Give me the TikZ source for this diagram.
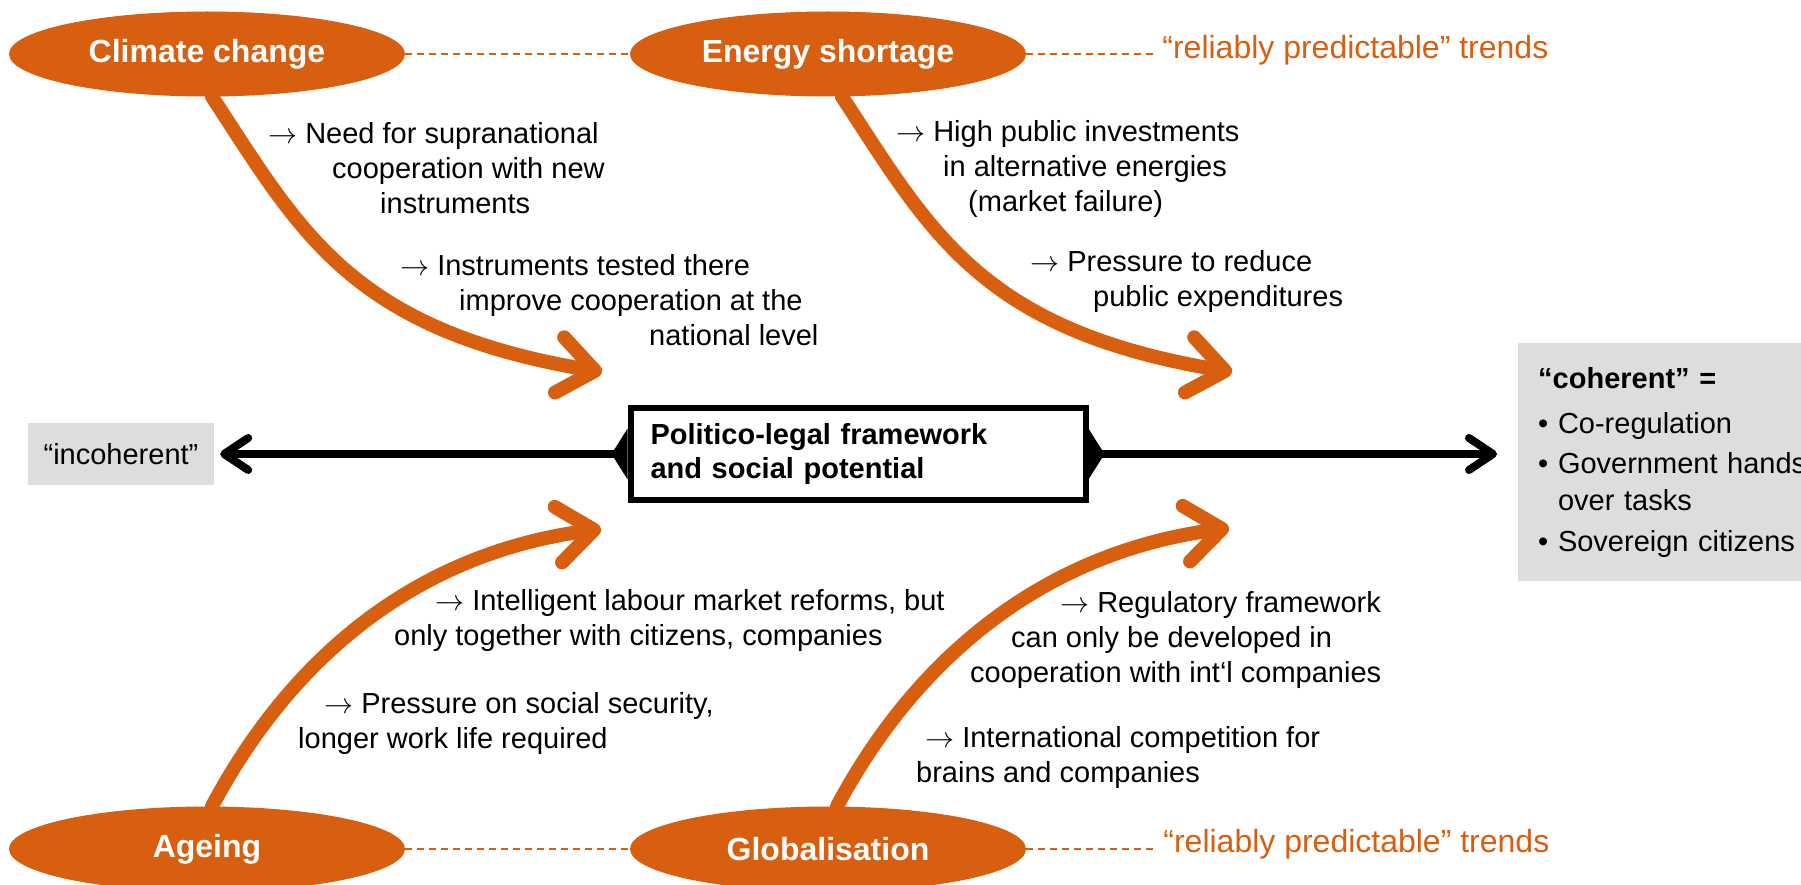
\RequirePackage{fix-cm}
\documentclass[tikz,border=0pt]{standalone}
\usepackage{fontspec}
\setmainfont{Liberation Sans}
\usetikzlibrary{arrows.meta,shapes.geometric,positioning}

\definecolor{trendorange}{RGB}{216,94,16}
\definecolor{boxgray}{RGB}{221,221,221}

\tikzset{
  trend/.style={ellipse, fill=trendorange, text=white, inner sep=0pt,
    minimum width=396pt, minimum height=85pt,
    font=\bfseries\fontsize{32}{38}\selectfont},
  link/.style={draw=trendorange, line width=2pt, dash pattern=on 7pt off 5pt},
  trendlabel/.style={anchor=west, inner sep=0pt, text=trendorange,
    font=\fontsize{32}{38}\selectfont},
  impact/.style={draw=trendorange, line width=14pt, line cap=round,
    -{Straight Barb[length=36pt,width=56pt,line cap=round,line join=round]}},
  note/.style={anchor=west, align=left, inner sep=0pt,
    font=\fontsize{29}{35}\selectfont},
  graybox/.style={fill=boxgray, inner sep=0pt, font=\fontsize{29}{37}\selectfont},
  frame/.style={draw, line width=6pt, fill=white, minimum width=455pt,
    minimum height=92pt, text width=415pt, inner xsep=20pt, align=left,
    font=\bfseries\fontsize{29}{34}\selectfont},
  axis/.style={line width=8pt,
    {Triangle[reversed,length=16pt,width=50pt]}-{Straight Barb[length=24pt,width=32pt,line cap=round,line join=round]}}
}

\begin{document}
\begin{tikzpicture}[x=1pt,y=-1pt]
  \clip (0,0) rectangle (1801,885);

  % Trends
  \node[trend] (climate) at (207,54) {Climate change};
  \node[trend] (energy) at (828,54) {Energy shortage};
  \node[trend] (ageing) at (207,849) {Ageing};
  \node[trend] (global) at (828,849) {Globalisation};

  % dashed links
  \draw[link] (climate) -- (energy);
  \draw[link] (energy.east) -- ++(128,0) coordinate (topEnd);
  \node[trendlabel] (topLabel) at ([xshift=8pt,yshift=4pt]topEnd) {“reliably predictable” trends};
  \draw[link] (ageing) -- (global);
  \draw[link] (global.east) -- ++(129,0) coordinate (bottomEnd);
  \node[trendlabel] (bottomLabel) at ([xshift=8pt,yshift=5pt]bottomEnd) {“reliably predictable” trends};

  % framework and axis
  \node[frame] (frame) at (858,454) {Politico-legal framework\\and social potential};
  \node[graybox, minimum width=186pt, minimum height=62pt] (incoh) at (121,454) {“incoherent”};
  \node[graybox, anchor=north west, text width=300pt, inner xsep=20pt,
    minimum height=238pt, align=left] (coherent) at (1518,343)
    {\textbf{“coherent” =}\\[8pt]
     \textbullet\ Co-regulation\\[3pt]
     \textbullet\ Government hands\\
     \phantom{\textbullet\ }over tasks\\[4pt]
     \textbullet\ Sovereign citizens};
  \draw[axis, shorten >=6pt] (frame.west) -- (incoh.east);
  \draw[axis, shorten >=21pt] (frame.east) -- (frame.east -| coherent.west);

  % impacts
  \coordinate (climateTip) at (602,372);
  \coordinate (energyTip) at (1232,372);
  \coordinate (ageingTip) at (601,529);
  \coordinate (globalTip) at (1229,528);
  \draw[impact] ([xshift=5pt]climate.south) .. controls +(88,134) and +(-252,-42) .. (climateTip);
  \draw[impact] ([xshift=14pt]energy.south) .. controls +(88,134) and +(-252,-42) .. (energyTip);
  \draw[impact] ([xshift=5pt]ageing.north) .. controls +(73,-137) and +(-196,26) .. (ageingTip);
  \draw[impact] ([xshift=9pt]global.north) .. controls +(73,-137) and +(-196,26) .. (globalTip);

  % notes
  \node[note] (climateA) at (268,168) {$\rightarrow$ Need for supranational\\
    \hspace*{64pt}cooperation with new\\\hspace*{112pt}instruments};
  \node[note] (climateB) at (400,300) {$\rightarrow$ Instruments tested there\\
    \hspace*{59pt}improve cooperation at the\\\hspace*{249pt}national level};
  \node[note] (energyA) at (896,169) {$\rightarrow$ High public investments\\
    \hspace*{47pt}in alternative energies\\\hspace*{72pt}(market failure)};
  \node[note] (energyB) at (1030,282) {$\rightarrow$ Pressure to reduce\\
    \hspace*{63pt}public expenditures};
  \node[note] (ageingA) at (394,620) {\hspace*{41pt}$\rightarrow$ Intelligent labour market reforms, but\\
    only together with citizens, companies};
  \node[note] (ageingB) at (298,723) {\hspace*{26pt}$\rightarrow$ Pressure on social security,\\
    longer work life required};
  \node[note] (globalA) at (970,640) {\hspace*{90pt}$\rightarrow$ Regulatory framework\\
    \hspace*{41pt}can only be developed in\\cooperation with int‘l companies};
  \node[note] (globalB) at (916,757) {\hspace*{9pt}$\rightarrow$ International competition for\\
    brains and companies};

\end{tikzpicture}
\end{document}
